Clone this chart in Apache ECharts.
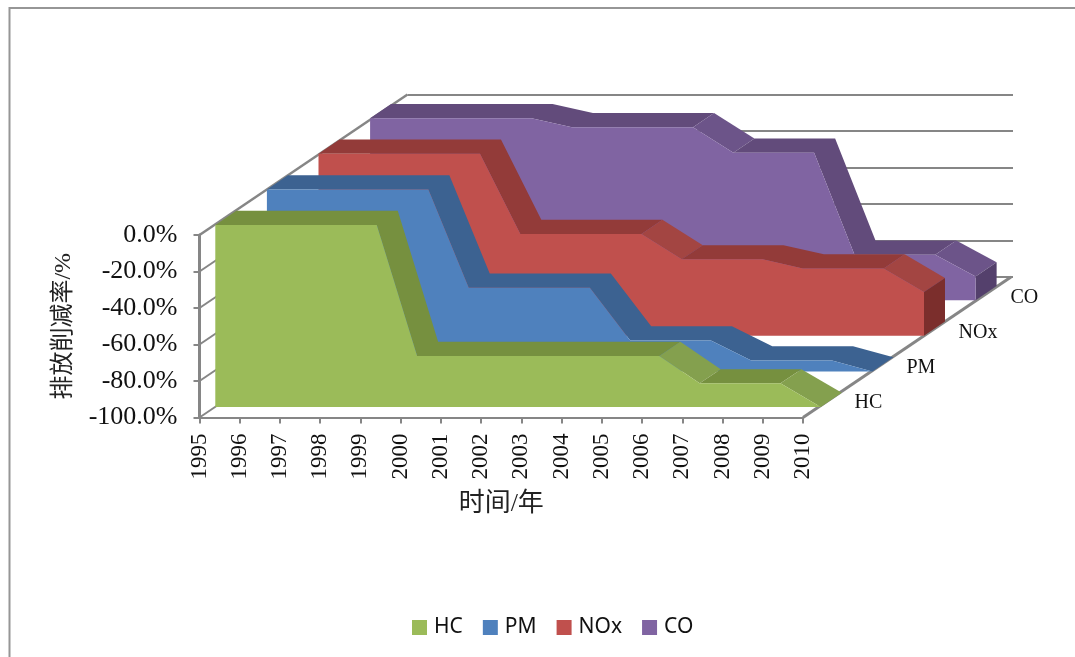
<!DOCTYPE html>
<html>
<head>
<meta charset="utf-8">
<style>
  html, body { margin: 0; padding: 0; background: #fff; }
  #chart { width: 1075px; height: 657px; }
</style>
</head>
<body>
<div id="chart"></div>
<script src="https://cdn.jsdelivr.net/npm/echarts@6/dist/echarts.min.js"></script>
<script>
const years = ["1995", "1996", "1997", "1998", "1999", "2000", "2001", "2002", "2003", "2004", "2005", "2006", "2007", "2008", "2009", "2010"];
const hc = [0, 0, 0, 0, 0, -72, -72, -72, -72, -72, -72, -72, -87, -87, -87, -100];
const pm = [0, 0, 0, 0, 0, -54, -54, -54, -54, -83, -83, -83, -94, -94, -94, -100];
const nox = [0, 0, 0, 0, 0, -44, -44, -44, -44, -58, -58, -58, -63, -63, -63, -76];
const co = [0, 0, 0, 0, 0, -5, -5, -5, -5, -19, -19, -19, -75, -75, -75, -87];
const seriesNames = ["HC", "PM", "NOx", "CO"];
const seriesValues = [hc, pm, nox, co];
const yTicks = [0, -20, -40, -60, -80, -100];

const serifFont = "'Liberation Serif', 'Noto Sans CJK SC', serif";
const lineColor = "#868686";
// front, top, lighter slope, end cap
const shades = [
  ["#9BBB59", "#76903F", "#84A04E", "#5F7530"],
  ["#4F81BD", "#3C6291", "#3C6291", "#2F5078"],
  ["#C0504D", "#933B39", "#A34542", "#7B2E2C"],
  ["#8064A2", "#624B7B", "#6C5489", "#54406C"],
];

// oblique projection: each ribbon sits on its own grid, shifted back along the floor
const frontLeft = 215.3, frontTop = 225, stepX = 51.6, stepY = 35.6;
const plotWidth = 605.5, plotHeight = 182;
const ribbonDepth = [21, -14.2];
const wallDepth = [208, -140.5];

const grids = [{ left: 199.5, top: 235, width: 603.5, height: 182.5 }];
const xAxes = [{
  type: "category",
  gridIndex: 0,
  data: years,
  boundaryGap: false,
  position: "bottom",
  name: "时间/年",
  nameLocation: "middle",
  nameGap: 74,
  nameTextStyle: { color: "#222", fontSize: 26, fontFamily: serifFont },
  axisLine: { onZero: false, lineStyle: { color: lineColor, width: 2 } },
  axisTick: { alignWithLabel: true, length: 6, lineStyle: { color: lineColor, width: 2 } },
  axisLabel: { interval: 0, rotate: 90, margin: 16, color: "#111", fontSize: 23, fontFamily: serifFont },
}];
const yAxes = [{
  type: "value",
  gridIndex: 0,
  min: -100,
  max: 0,
  interval: 20,
  position: "left",
  name: "排放削减率/%",
  nameLocation: "middle",
  nameGap: 124,
  nameTextStyle: { color: "#222", fontSize: 24, fontFamily: serifFont },
  axisLine: { show: true, lineStyle: { color: lineColor, width: 3 } },
  axisTick: { show: true, length: 6, lineStyle: { color: lineColor, width: 2 } },
  splitLine: { show: false },
  axisLabel: {
    margin: 22,
    padding: [4, 0, 0, 0],
    color: "#111",
    fontSize: 26,
    fontFamily: serifFont,
    formatter: (v) => v.toFixed(1) + "%",
  },
}];

// ribbons, front to back
seriesNames.forEach((name, i) => {
  grids.push({
    left: frontLeft + stepX * i,
    top: frontTop - stepY * i,
    width: plotWidth,
    height: plotHeight,
  });
  xAxes.push({ type: "category", gridIndex: i + 1, data: years, boundaryGap: false, show: false });
  yAxes.push({ type: "value", gridIndex: i + 1, min: -100, max: 0, interval: 20, show: false, splitLine: { show: false } });
});

// back wall with the gridlines
const wallIndex = grids.length;
grids.push({
  left: 199.5 + wallDepth[0],
  top: 235 + wallDepth[1],
  width: 605.5,
  height: 182.5,
});
xAxes.push({ type: "category", gridIndex: wallIndex, data: years, boundaryGap: false, show: false });
yAxes.push({
  type: "value",
  gridIndex: wallIndex,
  min: -100,
  max: 0,
  interval: 20,
  axisLine: { show: false },
  axisTick: { show: false },
  axisLabel: { show: false },
  splitLine: { show: true, lineStyle: { color: lineColor, width: 2 } },
});

function shift(p, d) {
  return [p[0] + d[0], p[1] + d[1]];
}

function topShade(colors, drop) {
  return drop >= 12 && drop < 27 ? colors[2] : colors[1];
}

function renderRibbon(seriesIndex, values) {
  const colors = shades[seriesIndex];
  return function (params, api) {
    if (params.dataIndex !== 0) return null;
    const tops = values.map((v, i) => api.coord([i, v]));
    const bottoms = [api.coord([0, -100]), api.coord([values.length - 1, -100])];
    const children = [];
    // runs of one shade become one polygon so no seams show
    let start = 0;
    for (let i = 0; i < tops.length - 1; i++) {
      const shade = topShade(colors, values[i] - values[i + 1]);
      const next = i + 2 < tops.length ? topShade(colors, values[i + 1] - values[i + 2]) : null;
      if (next === shade) continue;
      const run = tops.slice(start, i + 2);
      children.push({
        type: "polygon",
        shape: { points: run.concat(run.map((p) => shift(p, ribbonDepth)).reverse()) },
        style: { fill: shade },
      });
      start = i + 1;
    }
    const lastTop = tops[tops.length - 1];
    children.push({
      type: "polygon",
      shape: { points: [lastTop, shift(lastTop, ribbonDepth), shift(bottoms[1], ribbonDepth), bottoms[1]] },
      style: { fill: colors[3] },
    });
    children.push({
      type: "polygon",
      shape: { points: [bottoms[0]].concat(tops, [bottoms[1]]) },
      style: { fill: colors[0] },
    });
    return { type: "group", children: children };
  };
}

function renderFrame(params, api) {
  if (params.dataIndex !== 0) return null;
  const children = [];
  yTicks.forEach((t) => {
    const p = api.coord([0, t]);
    children.push({
      type: "line",
      shape: { x1: p[0], y1: p[1], x2: p[0] + wallDepth[0], y2: p[1] + wallDepth[1] },
      style: { stroke: lineColor, lineWidth: t === 0 ? 2.5 : 2 },
    });
  });
  const end = api.coord([years.length - 1, -100]);
  children.push({
    type: "line",
    shape: { x1: end[0], y1: end[1], x2: end[0] + wallDepth[0], y2: end[1] + wallDepth[1] },
    style: { stroke: lineColor, lineWidth: 3 },
  });
  seriesNames.forEach((name, i) => {
    const k = (i + 0.5) / seriesNames.length;
    children.push({
      type: "text",
      x: end[0] + wallDepth[0] * k + 25.5,
      y: end[1] + wallDepth[1] * k + 3,
      style: { text: name, fill: "#111", fontSize: 20, fontFamily: serifFont, align: "left", verticalAlign: "middle" },
    });
  });
  return { type: "group", children: children };
}

const series = [{
  type: "custom",
  name: "frame",
  xAxisIndex: 0,
  yAxisIndex: 0,
  z: 1,
  silent: true,
  data: [[0, 0]],
  renderItem: renderFrame,
}];
seriesNames.forEach((name, i) => {
  series.push({
    type: "custom",
    name: name,
    xAxisIndex: i + 1,
    yAxisIndex: i + 1,
    z: 10 - i,
    itemStyle: { color: shades[i][0] },
    data: seriesValues[i].map((v, k) => [k, v]),
    renderItem: renderRibbon(i, seriesValues[i]),
  });
});

const chart = echarts.init(document.getElementById("chart"), null, { renderer: "canvas" });
chart.setOption({
  animation: false,
  backgroundColor: "#fff",
  grid: grids,
  xAxis: xAxes,
  yAxis: yAxes,
  legend: {
    data: seriesNames,
    left: 412,
    top: 617,
    padding: 0,
    icon: "rect",
    itemWidth: 15,
    itemHeight: 15,
    itemGap: 20,
    selectedMode: false,
    textStyle: { color: "#111", fontSize: 21, fontFamily: "'Noto Sans', sans-serif", padding: [0, 0, 0, 2] },
  },
  graphic: [{
    type: "rect",
    silent: true,
    z: 0,
    shape: { x: 9.5, y: 8, width: 1100, height: 700 },
    style: { fill: "none", stroke: "#969696", lineWidth: 2 },
  }],
  series: series,
});
</script>
</body>
</html>
